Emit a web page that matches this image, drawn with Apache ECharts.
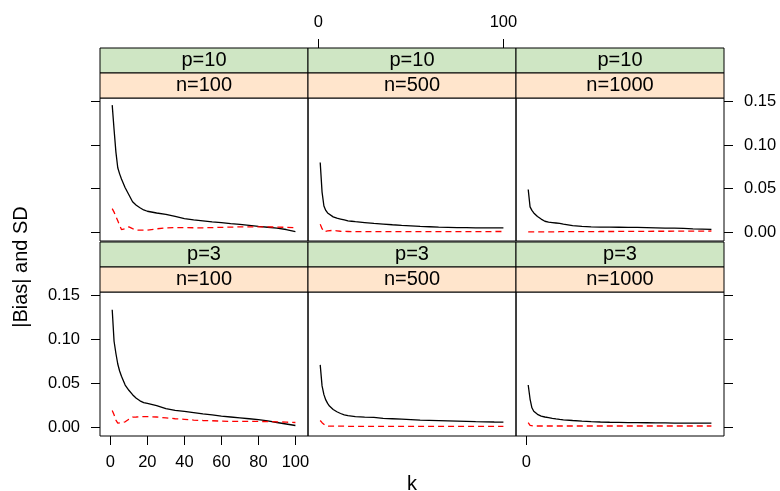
<!DOCTYPE html>
<html>
<head>
<meta charset="utf-8">
<script src="https://cdn.jsdelivr.net/npm/echarts@6/dist/echarts.min.js"></script>
<style>
  html, body { margin: 0; padding: 0; background: #fff; }
  #chart { width: 780px; height: 491px; }
</style>
</head>
<body>
<div id="chart"></div>
<script>
// panel labels
const pLevels = ["p=10", "p=3"];
const nLevels = ["n=100", "n=500", "n=1000"];

// k values along the x axis
const kValues = [1, 2, 3, 4, 5, 6, 8, 10, 12, 14, 16, 18, 20, 25, 30, 35, 40, 45, 50, 55, 60, 65, 70, 75, 80, 85, 90, 95, 100];

// SD (black solid)
const sdP10N100 = [0.146, 0.118, 0.092, 0.074, 0.067, 0.061, 0.051, 0.043, 0.035, 0.031, 0.028, 0.0255, 0.024, 0.022, 0.0205, 0.018, 0.0155, 0.014, 0.013, 0.0118, 0.011, 0.0098, 0.0088, 0.0077, 0.0066, 0.0056, 0.0045, 0.003, 0.0006];
const sdP10N500 = [0.080, 0.046, 0.030, 0.025, 0.022, 0.020, 0.0175, 0.016, 0.015, 0.014, 0.013, 0.0125, 0.012, 0.011, 0.010, 0.0093, 0.0085, 0.0078, 0.0072, 0.0066, 0.0062, 0.0058, 0.0055, 0.0052, 0.0051, 0.005, 0.005, 0.005, 0.005];
const sdP10N1000 = [0.049, 0.029, 0.025, 0.022, 0.020, 0.018, 0.015, 0.0125, 0.0115, 0.011, 0.0105, 0.010, 0.0092, 0.0075, 0.0065, 0.006, 0.0058, 0.0057, 0.0056, 0.0055, 0.0054, 0.0052, 0.005, 0.0047, 0.0045, 0.0042, 0.0038, 0.0035, 0.0032];
const sdP3N100 = [0.134, 0.098, 0.084, 0.072, 0.064, 0.058, 0.048, 0.042, 0.037, 0.033, 0.030, 0.028, 0.027, 0.0245, 0.021, 0.019, 0.0178, 0.0165, 0.015, 0.0138, 0.0125, 0.0115, 0.0105, 0.0095, 0.0085, 0.007, 0.0052, 0.0035, 0.0018];
const sdP3N500 = [0.071, 0.047, 0.037, 0.031, 0.027, 0.024, 0.020, 0.0175, 0.0155, 0.014, 0.013, 0.0125, 0.012, 0.0113, 0.011, 0.010, 0.0095, 0.009, 0.0085, 0.008, 0.0077, 0.0074, 0.0071, 0.0068, 0.0065, 0.0062, 0.006, 0.0058, 0.0057];
const sdP3N1000 = [0.048, 0.032, 0.022, 0.018, 0.016, 0.0145, 0.0125, 0.0115, 0.0108, 0.010, 0.0093, 0.0087, 0.0083, 0.0075, 0.0068, 0.0062, 0.0058, 0.0055, 0.0053, 0.0051, 0.005, 0.0049, 0.0048, 0.0047, 0.0046, 0.0046, 0.0045, 0.0045, 0.0045];

// |Bias| (red dashed)
const biasP10N100 = [0.027, 0.023, 0.018, 0.013, 0.008, 0.003, 0.004, 0.006, 0.004, 0.0025, 0.0022, 0.0022, 0.0023, 0.0038, 0.0048, 0.0053, 0.0052, 0.005, 0.005, 0.0052, 0.0055, 0.0058, 0.006, 0.006, 0.006, 0.006, 0.0058, 0.0055, 0.005];
const biasP10N500 = [0.009, 0.004, 0.0005, 0.001, 0.0015, 0.002, 0.002, 0.0015, 0.001, 0.0008, 0.0007, 0.0006, 0.0006, 0.0005, 0.0005, 0.0005, 0.0005, 0.0005, 0.0005, 0.0005, 0.0005, 0.0005, 0.0005, 0.0005, 0.0006, 0.0006, 0.0006, 0.0007, 0.0007];
const biasP10N1000 = [0.0003, 0.0002, 0.0002, 0.0002, 0.0002, 0.0003, 0.0003, 0.0003, 0.0004, 0.0004, 0.0004, 0.0005, 0.0005, 0.0005, 0.0006, 0.0006, 0.0007, 0.0007, 0.0008, 0.0008, 0.0009, 0.0009, 0.001, 0.001, 0.0011, 0.0011, 0.0012, 0.0012, 0.0013];
const biasP3N100 = [0.019, 0.014, 0.008, 0.0045, 0.0045, 0.005, 0.006, 0.009, 0.0113, 0.0115, 0.0118, 0.012, 0.012, 0.0115, 0.0105, 0.0095, 0.0088, 0.008, 0.0075, 0.0072, 0.0068, 0.0065, 0.0064, 0.0064, 0.0064, 0.0063, 0.006, 0.0056, 0.0052];
const biasP3N500 = [0.0075, 0.005, 0.003, 0.0015, 0.0012, 0.001, 0.001, 0.001, 0.001, 0.001, 0.0009, 0.0009, 0.0009, 0.0009, 0.0009, 0.0008, 0.0008, 0.0008, 0.0008, 0.0008, 0.0008, 0.0008, 0.0008, 0.0008, 0.0008, 0.0008, 0.0008, 0.0008, 0.0008];
const biasP3N1000 = [0.005, 0.002, 0.0012, 0.0012, 0.0012, 0.0012, 0.0012, 0.0012, 0.0012, 0.0012, 0.0012, 0.0012, 0.0012, 0.0012, 0.0012, 0.0012, 0.0012, 0.0012, 0.0012, 0.0012, 0.0012, 0.0012, 0.0012, 0.0012, 0.0012, 0.0012, 0.0012, 0.0012, 0.0012];

// tick labels
const xTicksCol1 = [0, 20, 40, 60, 80, 100];
const xTicksCol2 = [0, 100];
const xTicksCol3 = [0];
const yTicks = [0, 0.05, 0.10, 0.15];

const sdPanels = [sdP10N100, sdP10N500, sdP10N1000, sdP3N100, sdP3N500, sdP3N1000];
const biasPanels = [biasP10N100, biasP10N500, biasP10N1000, biasP3N100, biasP3N500, biasP3N1000];

var myChart = echarts.init(document.getElementById("chart"));

const font = "'Liberation Sans', Arial, sans-serif";
const panelLeft = [100, 308, 516];
const panelW = 208;
const panelTop = [98, 292];
const panelH = [143, 144];
const stripH = 25;

const grids = [], xAxes = [], yAxes = [], series = [], graphics = [];

for (let r = 0; r < 2; r++) {
  for (let c = 0; c < 3; c++) {
    const i = r * 3 + c;
    grids.push({
      left: panelLeft[c], top: panelTop[r], width: panelW, height: panelH[r],
      show: true, borderColor: "#000", borderWidth: 1, backgroundColor: "transparent",
      outerBoundsMode: "none"
    });

    // x axes: labels alternate (col1 bottom, col2 top, col3 bottom)
    let xTicks = null, xPos = "bottom", xOffset = 0;
    if (i === 3) xTicks = xTicksCol1;
    if (i === 1) { xTicks = xTicksCol2; xPos = "top"; xOffset = 2 * stripH; }
    if (i === 5) xTicks = xTicksCol3;
    xAxes.push({
      gridIndex: i, type: "value", min: -5.6, max: 106.8,
      show: xTicks !== null, position: xPos, offset: xOffset,
      splitLine: { show: false },
      axisLine: { show: false, onZero: false },
      axisTick: { show: true, inside: false, length: 9, customValues: xTicks || [],
                  lineStyle: { color: "#000", width: 1 } },
      axisLabel: { show: true, customValues: xTicks || [], color: "#000",
                   fontSize: 16.5, fontFamily: font, margin: xPos === "top" ? 17 : 18 }
    });

    // y axes: ticks on both sides, labels alternate (row1 right, row2 left)
    let yShow = false, yPos = "left", yLabel = false;
    if (i === 0) { yShow = true; yPos = "left"; }
    if (i === 2) { yShow = true; yPos = "right"; yLabel = true; }
    if (i === 3) { yShow = true; yPos = "left"; yLabel = true; }
    if (i === 5) { yShow = true; yPos = "right"; }
    yAxes.push({
      gridIndex: i, type: "value", min: -0.0102, max: 0.1542,
      show: yShow, position: yPos,
      splitLine: { show: false },
      axisLine: { show: false, onZero: false },
      axisTick: { show: true, inside: false, length: 9, customValues: yTicks,
                  lineStyle: { color: "#000", width: 1 } },
      axisLabel: { show: yLabel, customValues: yTicks, color: "#000",
                   fontSize: 16.5, fontFamily: font, margin: 20,
                   formatter: (v) => v.toFixed(2) }
    });

    series.push({
      type: "line", xAxisIndex: i, yAxisIndex: i, showSymbol: false, silent: true,
      data: kValues.map((k, j) => [k, sdPanels[i][j]]),
      lineStyle: { color: "#000", width: 1.3 }
    });
    series.push({
      type: "line", xAxisIndex: i, yAxisIndex: i, showSymbol: false, silent: true,
      data: kValues.map((k, j) => [k, biasPanels[i][j]]),
      lineStyle: { color: "#ff0000", width: 1.3, type: [6, 4] }
    });

    // strips: p on top (green), n below (peach)
    const sTop = panelTop[r] - 2 * stripH;
    graphics.push({
      type: "rect", shape: { x: panelLeft[c], y: sTop, width: panelW, height: stripH },
      style: { fill: "#cfe6c4", stroke: "#000", lineWidth: 1 }
    });
    graphics.push({
      type: "rect", shape: { x: panelLeft[c], y: sTop + stripH, width: panelW, height: stripH },
      style: { fill: "#ffe5cc", stroke: "#000", lineWidth: 1 }
    });
    graphics.push({
      type: "text", x: panelLeft[c] + panelW / 2, y: sTop + stripH / 2,
      style: { text: pLevels[r], fill: "#000", font: "20px " + font, align: "center", verticalAlign: "middle" }
    });
    graphics.push({
      type: "text", x: panelLeft[c] + panelW / 2, y: sTop + 1.5 * stripH,
      style: { text: nLevels[c], fill: "#000", font: "20px " + font, align: "center", verticalAlign: "middle" }
    });
  }
}

// axis titles
graphics.push({
  type: "text", x: 412, y: 484,
  style: { text: "k", fill: "#000", font: "20px " + font, align: "center", verticalAlign: "middle" }
});
graphics.push({
  type: "text", x: 21, y: 267, rotation: Math.PI / 2,
  style: { text: "|Bias| and SD", fill: "#000", font: "20px " + font, align: "center", verticalAlign: "middle" }
});

myChart.setOption({
  animation: false,
  backgroundColor: "#fff",
  grid: grids,
  xAxis: xAxes,
  yAxis: yAxes,
  series: series,
  graphic: graphics
});
</script>
</body>
</html>
